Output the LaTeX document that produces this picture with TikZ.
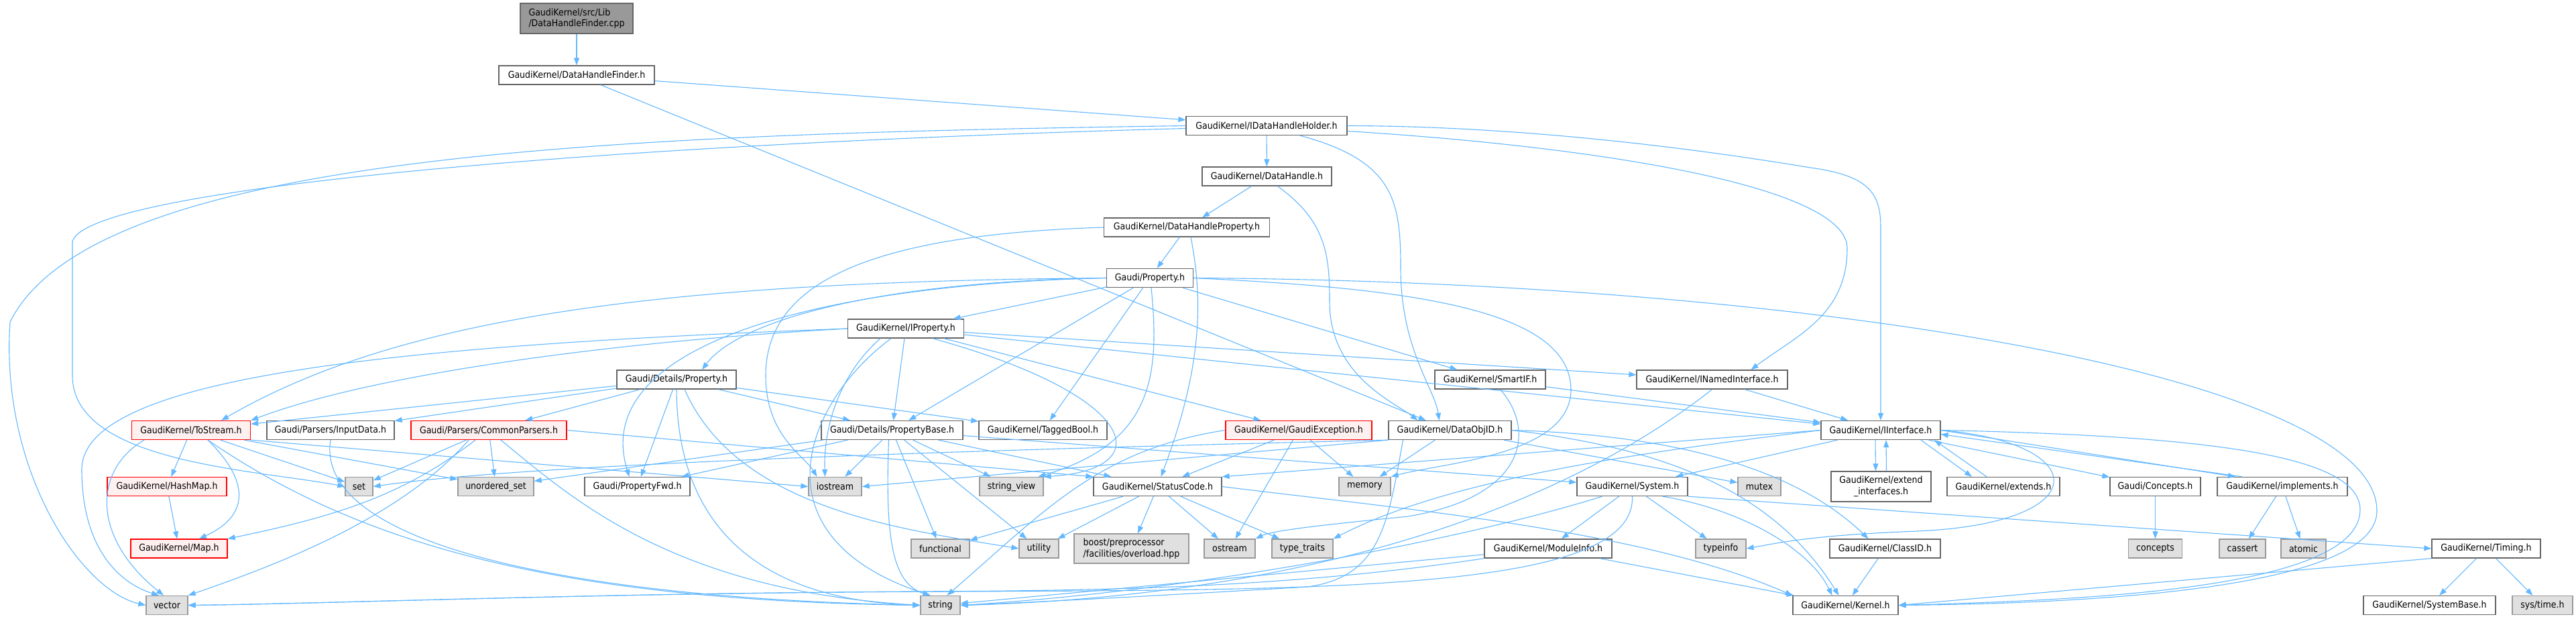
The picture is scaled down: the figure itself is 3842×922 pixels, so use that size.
\documentclass[tikz,border=0pt]{standalone}
\usepackage{fontspec}
\setmainfont{DejaVu Sans Condensed}
\usetikzlibrary{arrows.meta}
\definecolor{edgeblue}{HTML}{63B8FF}
\definecolor{boxline}{HTML}{666666}
\definecolor{sysline}{HTML}{999999}
\definecolor{sysfill}{HTML}{E0E0E0}
\definecolor{rootfill}{HTML}{999999}
\definecolor{truncfill}{HTML}{FFF0F0}

\begin{document}
\begin{tikzpicture}[x=1pt, y=-1pt, font=\fontsize{14}{16.5}\selectfont,
	file/.style={draw=boxline, fill=white, line width=1.3pt, minimum height=28pt, inner xsep=3pt, inner ysep=0pt},
	sysfile/.style={file, draw=sysline, fill=sysfill},
	truncfile/.style={file, draw=red, fill=truncfill},
	rootfile/.style={file, fill=rootfill, align=left, minimum height=45pt},
	inc/.style={draw=edgeblue, line width=1.1pt, -{Triangle[length=11pt,width=8pt]}}]
	\useasboundingbox (0,0) rectangle (3842,922);
	\fill[white] (0,0) rectangle (3842,922);

	\node[rootfile, minimum width=168pt] (cpp) at (860,27.5) {GaudiKernel/src/Lib\\/DataHandleFinder.cpp};
	\node[file, minimum width=232pt] (finder) at (860,112) {GaudiKernel/DataHandleFinder.h};
	\node[file, minimum width=240pt] (holder) at (1889,187.5) {GaudiKernel/IDataHandleHolder.h};
	\node[file, minimum width=193pt] (handle) at (1889.5,263) {GaudiKernel/DataHandle.h};
	\node[file, minimum width=247pt] (handleprop) at (1770,339) {GaudiKernel/DataHandleProperty.h};
	\node[file, minimum width=129pt] (prop) at (1715,414.5) {Gaudi/Property.h};
	\node[file, minimum width=173pt] (iprop) at (1351,490) {GaudiKernel/IProperty.h};
	\node[file, minimum width=178pt] (detprop) at (1009,566) {Gaudi/Details/Property.h};
	\node[file, minimum width=165pt] (smartif) at (2222.5,566) {GaudiKernel/SmartIF.h};
	\node[file, minimum width=225pt] (inamed) at (2553.5,566) {GaudiKernel/INamedInterface.h};

	\node[truncfile, minimum width=177pt] (tostream) at (285,641.5) {GaudiKernel/ToStream.h};
	\node[file, minimum width=190pt] (inputdata) at (493,641.5) {Gaudi/Parsers/InputData.h};
	\node[truncfile, minimum width=232pt] (parsers) at (729,641.5) {Gaudi/Parsers/CommonParsers.h};
	\node[file, minimum width=211pt] (propbase) at (1330.5,641.5) {Gaudi/Details/PropertyBase.h};
	\node[file, minimum width=191pt] (taggedbool) at (1555.5,641.5) {GaudiKernel/TaggedBool.h};
	\node[truncfile, minimum width=218pt] (gexc) at (1937,641.5) {GaudiKernel/GaudiException.h};
	\node[file, minimum width=183pt] (dataobjid) at (2162.5,641.5) {GaudiKernel/DataObjID.h};
	\node[file, minimum width=178pt] (iiface) at (2805,641.5) {GaudiKernel/IInterface.h};

	\node[truncfile, minimum width=178pt] (hashmap) at (249,725.5) {GaudiKernel/HashMap.h};
	\node[sysfile, minimum width=41pt] (set) at (535.5,725.5) {set};
	\node[sysfile, minimum width=113pt] (uset) at (739.5,725.5) {unordered\_set};
	\node[file, minimum width=157pt] (propfwd) at (950.5,725.5) {Gaudi/PropertyFwd.h};
	\node[sysfile, minimum width=79pt] (iostream) at (1245.5,725.5) {iostream};
	\node[sysfile, minimum width=95pt] (strview) at (1508.5,725.5) {string\_view};
	\node[file, minimum width=191pt] (statuscode) at (1726.5,725.5) {GaudiKernel/StatusCode.h};
	\node[sysfile, minimum width=77pt] (memory) at (2035.5,725.5) {memory};
	\node[file, minimum width=165pt] (system) at (2434.5,725.5) {GaudiKernel/System.h};
	\node[sysfile, minimum width=64pt] (mutex) at (2624,725.5) {mutex};
	\node[file, minimum width=149pt, minimum height=45pt, align=center] (extifaces) at (2805.5,725.5) {GaudiKernel/extend\\\_interfaces.h};
	\node[file, minimum width=168pt] (extends) at (2988,725.5) {GaudiKernel/extends.h};
	\node[file, minimum width=135pt] (concepts) at (3214.5,725.5) {Gaudi/Concepts.h};
	\node[file, minimum width=194pt] (implements) at (3404,725.5) {GaudiKernel/implements.h};

	\node[truncfile, minimum width=144pt] (mapx) at (267,818) {GaudiKernel/Map.h};
	\node[sysfile, minimum width=87pt] (functional) at (1402.5,818) {functional};
	\node[sysfile, minimum width=59pt] (utility) at (1549.5,818) {utility};
	\node[sysfile, minimum width=171pt, minimum height=44pt, align=left] (boost) at (1687.5,818) {boost/preprocessor\\/facilities/overload.hpp};
	\node[sysfile, minimum width=76pt] (ostream) at (1834,818) {ostream};
	\node[sysfile, minimum width=91pt] (typetraits) at (1942.5,818) {type\_traits};
	\node[file, minimum width=190pt] (moduleinfo) at (2309,818) {GaudiKernel/ModuleInfo.h};
	\node[sysfile, minimum width=75pt] (typeinfo) at (2566.5,818) {typeinfo};
	\node[file, minimum width=165pt] (classid) at (2811.5,818) {GaudiKernel/ClassID.h};
	\node[sysfile, minimum width=80pt] (conceptsys) at (3214.5,818) {concepts};
	\node[sysfile, minimum width=69pt] (cassert) at (3344.5,818) {cassert};
	\node[sysfile, minimum width=67pt] (atomic) at (3435.5,818) {atomic};
	\node[file, minimum width=162pt] (timing) at (3708,818) {GaudiKernel/Timing.h};

	\node[sysfile, minimum width=62pt] (vector) at (249,902.5) {vector};
	\node[sysfile, minimum width=59pt] (string) at (1402.5,902.5) {string};
	\node[file, minimum width=157pt] (kernel) at (2752.5,902.5) {GaudiKernel/Kernel.h};
	\node[file, minimum width=197pt] (systembase) at (3623.5,902.5) {GaudiKernel/SystemBase.h};
	\node[sysfile, minimum width=90pt] (systime) at (3792,902.5) {sys/time.h};

	\draw[inc] (cpp) -- (finder);
	\draw[inc] (finder) -- (holder);
	\draw[inc] (finder) -- (dataobjid);
	\draw[inc] (holder) -- (handle);
	\draw[inc] (holder.west) .. controls (900,200) and (140,230) .. (15,480) .. controls (0,700) and (120,880) .. (vector.west);
	\draw[inc] ([yshift=-4pt]holder.west) .. controls (900,215) and (130,280) .. (108,360) -- (108,560) .. controls (108,690) and (380,700) .. (set.west);
	\draw[inc] (holder.east) .. controls (2300,188) and (2580,230) .. (2700,250) .. controls (2790,262) and (2805,290) .. (2805,340) -- (iiface.north);
	\draw[inc] ([yshift=-8pt]holder.east) .. controls (2400,220) and (2755,280) .. (2755,370) .. controls (2755,470) and (2680,500) .. ([xshift=58pt]inamed.north);
	\draw[inc] ([xshift=50pt]holder.south) .. controls (2080,240) and (2089,300) .. (2089,400) .. controls (2089,520) and (2140,580) .. ([xshift=-16pt]dataobjid.north);
	\draw[inc] (handle) -- (handleprop);
	\draw[inc] ([xshift=16pt]handle.south) .. controls (1978,330) and (1983,380) .. (1983,450) .. controls (1983,560) and (2080,600) .. ([xshift=-48pt]dataobjid.north);
	\draw[inc] (handleprop) -- (prop);
	\draw[inc] (handleprop.west) .. controls (1300,350) and (1142,420) .. (1142,560) .. controls (1142,650) and (1200,680) .. ([xshift=-27pt]iostream.north);
	\draw[inc] ([xshift=6pt]handleprop.south) .. controls (1795,450) and (1792,550) .. ([xshift=5pt]statuscode.north);

	\draw[inc] (prop) -- (iprop);
	\draw[inc] (prop.west) .. controls (1300,420) and (1100,480) .. ([xshift=38pt]detprop.north);
	\draw[inc] (prop) -- (propbase);
	\draw[inc] (prop) -- (taggedbool);
	\draw[inc] (prop.west) .. controls (1000,420) and (600,470) .. ([xshift=45pt]tostream.north);
	\draw[inc] (prop.west) .. controls (1200,425) and (880,520) .. ([xshift=-12pt]propfwd.north);
	\draw[inc] ([xshift=2pt]prop.south) .. controls (1730,560) and (1720,660) .. ([xshift=40pt]strview.north);
	\draw[inc] (prop) -- (smartif);
	\draw[inc] (prop.east) .. controls (2100,430) and (2345,460) .. (2343,583) .. controls (2340,680) and (2150,690) .. (memory.north east);
	\draw[inc] (prop.east) .. controls (2700,420) and (3540,560) .. (3545,760) .. controls (3550,880) and (3100,900) .. (kernel.east);

	\draw[inc] (iprop) -- (iiface);
	\draw[inc] (iprop) -- (inamed);
	\draw[inc] (iprop.west) .. controls (900,510) and (550,560) .. (tostream.north east);
	\draw[inc] (iprop.west) .. controls (600,515) and (122,560) .. (122,700) .. controls (122,820) and (180,870) .. ([xshift=-12pt]vector.north);
	\draw[inc] (iprop) -- (propbase);
	\draw[inc] ([xshift=-38pt]iprop.south) .. controls (1250,560) and (1228,640) .. ([xshift=-15pt]iostream.north);
	\draw[inc] ([xshift=-22pt]iprop.south) .. controls (1200,600) and (1120,800) .. ([xshift=-15pt]string.north);
	\draw[inc] ([xshift=40pt]iprop.south) .. controls (1700,590) and (1730,700) .. (strview.north east);
	\draw[inc] (iprop) -- (gexc);

	\draw[inc] (detprop) -- (tostream);
	\draw[inc] (detprop) -- (inputdata);
	\draw[inc] (detprop) -- (parsers);
	\draw[inc] (detprop) -- (propfwd);
	\draw[inc] (detprop) -- (propbase);
	\draw[inc] (detprop) -- (taggedbool);
	\draw[inc] (detprop.south) .. controls (1010,800) and (1150,895) .. (string.west);
	\draw[inc] ([xshift=12pt]detprop.south) .. controls (1100,760) and (1350,790) .. (utility.west);

	\draw[inc] (tostream) -- (hashmap);
	\draw[inc] ([xshift=25pt]tostream.south) .. controls (375,720) and (370,770) .. ([xshift=30pt]mapx.north);
	\draw[inc] ([xshift=-70pt]tostream.south) .. controls (140,700) and (135,800) .. ([xshift=-5pt]vector.north);
	\draw[inc] (tostream) -- (set);
	\draw[inc] (tostream) -- (uset);
	\draw[inc] (tostream.south east) -- (iostream.west);
	\draw[inc] ([xshift=25pt]tostream.south) .. controls (520,800) and (800,895) .. (string.west);
	\draw[inc] (hashmap) -- (mapx);
	\draw[inc] (inputdata.south) .. controls (470,800) and (800,890) .. (string.west);

	\draw[inc] (parsers) -- (set);
	\draw[inc] (parsers) -- (uset);
	\draw[inc] ([xshift=-20pt]parsers.south) .. controls (600,740) and (500,770) .. (mapx.north east);
	\draw[inc] ([xshift=-30pt]parsers.south) .. controls (600,770) and (420,840) .. (vector.north east);
	\draw[inc] ([xshift=18pt]parsers.south) .. controls (850,740) and (1000,880) .. (string.west);
	\draw[inc] (parsers.east) -- (statuscode.north west);

	\draw[inc] (propbase) -- (propfwd);
	\draw[inc] (propbase) -- (uset);
	\draw[inc] (propbase) -- (iostream);
	\draw[inc] (propbase) -- (strview);
	\draw[inc] (propbase) -- (statuscode);
	\draw[inc] (propbase) -- (functional);
	\draw[inc] (propbase) -- (utility);
	\draw[inc] (propbase) -- (system);
	\draw[inc] ([xshift=-5pt]propbase.south) .. controls (1320,800) and (1330,870) .. ([xshift=-15pt]string.north);

	\draw[inc] (gexc) -- (statuscode);
	\draw[inc] (gexc) -- (memory);
	\draw[inc] (gexc) -- (ostream);
	\draw[inc] (gexc.west) .. controls (1640,670) and (1560,760) .. ([xshift=10pt]string.north);

	\draw[inc] (dataobjid.south west) .. controls (1500,670) and (800,690) .. (set.east);
	\draw[inc] (dataobjid.south west) -- (iostream.east);
	\draw[inc] (dataobjid) -- (memory);
	\draw[inc] (dataobjid) -- (mutex);
	\draw[inc] (dataobjid.east) .. controls (2550,650) and (2700,720) .. ([xshift=-25pt]classid.north);
	\draw[inc] (dataobjid.east) .. controls (2500,670) and (2650,740) .. ([xshift=-10pt]kernel.north);
	\draw[inc] ([xshift=-70pt]dataobjid.south) .. controls (2070,780) and (2060,860) .. (1950,875) .. controls (1700,890) and (1500,900) .. (string.east);

	\draw[inc] (smartif) -- (iiface);
	\draw[inc] ([xshift=15pt]smartif.south) .. controls (2290,640) and (2280,740) .. (2100,770) .. controls (2000,780) and (1900,790) .. (ostream.north east);
	\draw[inc] (inamed) -- (iiface);
	\draw[inc] (inamed.south) .. controls (2300,780) and (1900,890) .. (string.east);

	\draw[inc] ([xshift=-8pt]iiface.south) -- ([xshift=-8pt]extifaces.north);
	\draw[inc] ([xshift=8pt]extifaces.north) -- ([xshift=8pt]iiface.south);
	\draw[inc] ([xshift=60pt]iiface.south) -- ([xshift=-47pt]extends.north);
	\draw[inc] ([xshift=-25pt]extends.north) -- ([xshift=80pt]iiface.south);
	\draw[inc] (iiface) -- (concepts);
	\draw[inc] (iiface.east) -- ([xshift=-70pt]implements.north);
	\draw[inc] ([xshift=-60pt]implements.north) -- ([yshift=-6pt]iiface.east);
	\draw[inc] (iiface) -- (system);
	\draw[inc] (iiface.west) -- (statuscode.north east);
	\draw[inc] (iiface.west) .. controls (2400,680) and (2150,720) .. (typetraits.north east);
	\draw[inc] (iiface.east) .. controls (3120,660) and (3130,780) .. (2860,792) .. controls (2700,798) and (2650,810) .. (typeinfo.east);
	\draw[inc] (iiface.east) .. controls (3300,650) and (3520,680) .. (3520,760) .. controls (3520,880) and (3100,895) .. (kernel.east);

	\draw[inc] (statuscode) -- (functional);
	\draw[inc] (statuscode) -- (utility);
	\draw[inc] (statuscode) -- (boost);
	\draw[inc] (statuscode) -- (ostream);
	\draw[inc] (statuscode) -- (typetraits);
	\draw[inc] (statuscode.east) .. controls (2100,760) and (2450,790) .. (kernel.north west);

	\draw[inc] (system) -- (moduleinfo);
	\draw[inc] (system) -- (typeinfo);
	\draw[inc] ([xshift=45pt]system.south) .. controls (2600,760) and (2700,820) .. ([xshift=-20pt]kernel.north);
	\draw[inc] (system.south east) -- (timing.west);
	\draw[inc] ([xshift=-45pt]system.south) .. controls (2200,800) and (1800,880) .. (string.east);
	\draw[inc] (system.south) .. controls (2440,880) and (2000,880) .. (1400,882) .. controls (900,884) and (500,900) .. (vector.east);

	\draw[inc] (moduleinfo) -- (kernel);
	\draw[inc] (moduleinfo) -- (string);
	\draw[inc] (moduleinfo.south west) .. controls (1900,880) and (1600,880) .. (1400,882) .. controls (900,884) and (500,900) .. (vector.east);
	\draw[inc] (classid) -- (kernel);
	\draw[inc] (concepts) -- (conceptsys);
	\draw[inc] (implements) -- (cassert);
	\draw[inc] (implements) -- (atomic);
	\draw[inc] (timing.south west) -- (kernel.east);
	\draw[inc] (timing) -- (systembase);
	\draw[inc] (timing) -- (systime);
\end{tikzpicture}
\end{document}
